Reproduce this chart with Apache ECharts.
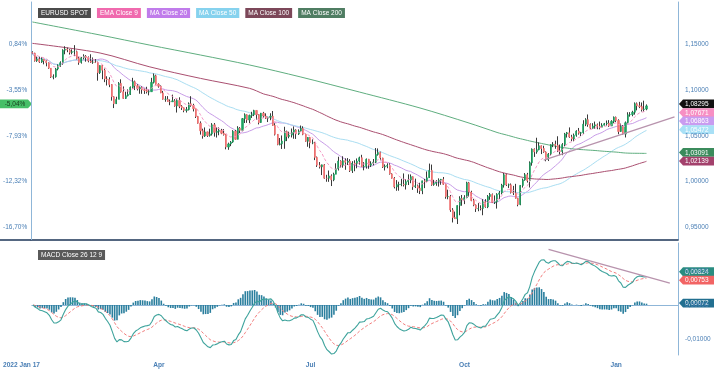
<!DOCTYPE html>
<html><head><meta charset="utf-8">
<script src="https://cdn.jsdelivr.net/npm/echarts@6/dist/echarts.min.js"></script>
<style>html,body{margin:0;padding:0;background:#fff}#c{width:715px;height:372px}</style>
</head><body><div id="c"></div>
<script>
// ---- daily EURUSD candles, 2022-01-17 .. 2023-01-19 (Mon-Fri) ----
const opens = [
1.1413,1.1408,1.1325,1.1344,1.1311, 1.1343,1.1325,1.1302,1.1243,1.1145,
1.1148,1.1234,1.1271,1.1303,1.1440, 1.1451,1.1442,1.1415,1.1424,1.1424,
1.1349,1.1306,1.1357,1.1374,1.1361, 1.1321,1.1308,1.1309,1.1306,1.1194,
1.1271,1.1221,1.1125,1.1118,1.1064, 1.0930,1.0854,1.0901,1.1076,1.0985,
1.0912,1.0942,1.0955,1.1033,1.1095, 1.1051,1.1016,1.1031,1.1007,1.0998,
1.0983,1.0985,1.1088,1.1159,1.1067, 1.1046,1.0972,1.0902,1.0902,1.0877,
1.0875,1.0885,1.0829,1.0890,1.0826, 1.0809,1.0780,1.0789,1.0853,1.0835,
1.0798,1.0714,1.0640,1.0557,1.0500, 1.0545,1.0505,1.0523,1.0622,1.0540,
1.0551,1.0560,1.0530,1.0515,1.0379, 1.0413,1.0434,1.0551,1.0464,1.0586,
1.0562,1.0690,1.0733,1.0675,1.0725, 1.0734,1.0780,1.0734,1.0648,1.0750,
1.0719,1.0695,1.0705,1.0716,1.0616, 1.0518,1.0408,1.0414,1.0445,1.0550,
1.0495,1.0510,1.0537,1.0566,1.0522, 1.0554,1.0583,1.0518,1.0442,1.0484,
1.0425,1.0425,1.0266,1.0181,1.0162, 1.0184,1.0038,1.0037,1.0063,1.0020,
1.0081,1.0141,1.0226,1.0181,1.0230, 1.0212,1.0224,1.0121,1.0202,1.0196,
1.0225,1.0262,1.0164,1.0167,1.0246, 1.0180,1.0197,1.0212,1.0298,1.0320,
1.0259,1.0160,1.0170,1.0178,1.0085, 1.0038,0.9942,0.9967,0.9969,0.9972,
0.9966,1.0000,1.0017,1.0055,0.9944, 0.9955,0.9929,0.9901,1.0009,1.0002,
1.0042,1.0123,0.9968,0.9981,1.0001, 1.0016,1.0025,0.9971,0.9835,0.9838,
0.9690,0.9607,0.9594,0.9738,0.9815, 0.9802,0.9825,0.9987,0.9886,0.9793,
0.9743,0.9703,0.9706,0.9705,0.9780, 0.9723,0.9837,0.9860,0.9771,0.9781,
0.9862,0.9877,0.9962,1.0076,0.9963, 0.9965,0.9882,0.9876,0.9817,0.9749,
0.9959,1.0019,1.0076,1.0011,1.0207, 1.0357,1.0325,1.0350,1.0393,1.0363,
1.0325,1.0243,1.0303,1.0405,1.0409, 1.0398,1.0339,1.0330,1.0406,1.0523,
1.0535,1.0490,1.0467,1.0508,1.0554, 1.0531,1.0536,1.0630,1.0679,1.0626,
1.0585,1.0609,1.0623,1.0606,1.0596, 1.0618,1.0635,1.0641,1.0610,1.0660,
1.0705,1.0670,1.0550,1.0605,1.0521, 1.0645,1.0733,1.0735,1.0760,1.0854,
1.0830,1.0822,1.0790,1.0795
];
const closes = [
1.1408,1.1325,1.1344,1.1311,1.1343, 1.1325,1.1302,1.1243,1.1145,1.1148,
1.1234,1.1271,1.1303,1.1440,1.1451, 1.1442,1.1415,1.1424,1.1424,1.1349,
1.1306,1.1357,1.1374,1.1361,1.1321, 1.1308,1.1309,1.1306,1.1194,1.1271,
1.1221,1.1125,1.1118,1.1064,1.0930, 1.0854,1.0901,1.1076,1.0985,1.0912,
1.0942,1.0955,1.1033,1.1095,1.1051, 1.1016,1.1031,1.1007,1.0998,1.0983,
1.0985,1.1088,1.1159,1.1067,1.1046, 1.0972,1.0902,1.0902,1.0877,1.0875,
1.0885,1.0829,1.0890,1.0826,1.0809, 1.0780,1.0789,1.0853,1.0835,1.0798,
1.0714,1.0640,1.0557,1.0500,1.0545, 1.0505,1.0523,1.0622,1.0540,1.0551,
1.0560,1.0530,1.0515,1.0379,1.0413, 1.0434,1.0551,1.0464,1.0586,1.0562,
1.0690,1.0733,1.0675,1.0725,1.0734, 1.0780,1.0734,1.0648,1.0750,1.0719,
1.0695,1.0705,1.0716,1.0616,1.0518, 1.0408,1.0414,1.0445,1.0550,1.0495,
1.0510,1.0537,1.0566,1.0522,1.0554, 1.0583,1.0518,1.0442,1.0484,1.0425,
1.0425,1.0266,1.0181,1.0162,1.0184, 1.0038,1.0037,1.0063,1.0020,1.0081,
1.0141,1.0226,1.0181,1.0230,1.0212, 1.0224,1.0121,1.0202,1.0196,1.0225,
1.0262,1.0164,1.0167,1.0246,1.0180, 1.0197,1.0212,1.0298,1.0320,1.0259,
1.0160,1.0170,1.0178,1.0085,1.0038, 0.9942,0.9967,0.9969,0.9972,0.9966,
1.0000,1.0017,1.0055,0.9944,0.9955, 0.9929,0.9901,1.0009,1.0002,1.0042,
1.0123,0.9968,0.9981,1.0001,1.0016, 1.0025,0.9971,0.9835,0.9838,0.9690,
0.9607,0.9594,0.9738,0.9815,0.9802, 0.9825,0.9987,0.9886,0.9793,0.9743,
0.9703,0.9706,0.9705,0.9780,0.9723, 0.9837,0.9860,0.9771,0.9781,0.9862,
0.9877,0.9962,1.0076,0.9963,0.9965, 0.9882,0.9876,0.9817,0.9749,0.9959,
1.0019,1.0076,1.0011,1.0207,1.0357, 1.0325,1.0350,1.0393,1.0363,1.0325,
1.0243,1.0303,1.0405,1.0409,1.0398, 1.0339,1.0330,1.0406,1.0523,1.0535,
1.0490,1.0467,1.0508,1.0554,1.0531, 1.0536,1.0630,1.0679,1.0626,1.0585,
1.0609,1.0623,1.0606,1.0596,1.0618, 1.0635,1.0641,1.0610,1.0660,1.0705,
1.0670,1.0550,1.0605,1.0521,1.0645, 1.0733,1.0735,1.0760,1.0854,1.0830,
1.0822,1.0790,1.0795,1.08295
];
const highs = [
1.1428,1.1412,1.1369,1.1369,1.1363, 1.1343,1.1329,1.1306,1.1244,1.1175,
1.1244,1.1285,1.1318,1.1450,1.1483, 1.1468,1.1451,1.1449,1.1495,1.1435,
1.1369,1.1366,1.1395,1.1386,1.1371, 1.1395,1.1360,1.1343,1.1314,1.1274,
1.1278,1.1238,1.1154,1.1143,1.1068, 1.0935,1.0930,1.1090,1.1121,1.1043,
1.0985,1.1011,1.1043,1.1137,1.1107, 1.1067,1.1043,1.1043,1.1019,1.1039,
1.1010,1.1137,1.1185,1.1171,1.1077, 1.1054,1.0994,1.0937,1.0937,1.0900,
1.0953,1.0904,1.0902,1.0924,1.0838, 1.0811,1.0818,1.0868,1.0936,1.0853,
1.0798,1.0720,1.0660,1.0580,1.0594, 1.0548,1.0580,1.0641,1.0642,1.0593,
1.0594,1.0578,1.0576,1.0519,1.0427, 1.0445,1.0564,1.0567,1.0607,1.0598,
1.0697,1.0748,1.0737,1.0734,1.0765, 1.0787,1.0780,1.0737,1.0753,1.0764,
1.0748,1.0710,1.0749,1.0774,1.0640, 1.0522,1.0478,1.0506,1.0601,1.0559,
1.0547,1.0582,1.0605,1.0574,1.0573, 1.0615,1.0606,1.0526,1.0487,1.0488,
1.0463,1.0434,1.0275,1.0215,1.0187, 1.0192,1.0075,1.0122,1.0080,1.0098,
1.0201,1.0273,1.0234,1.0278,1.0255, 1.0258,1.0246,1.0224,1.0234,1.0254,
1.0274,1.0294,1.0214,1.0254,1.0249, 1.0223,1.0248,1.0368,1.0364,1.0328,
1.0262,1.0189,1.0202,1.0201,1.0091, 1.0050,1.0017,0.9999,1.0031,1.0090,
1.0029,1.0080,1.0079,1.0057,1.0033, 0.9968,0.9988,1.0011,1.0030,1.0112,
1.0198,1.0187,1.0020,1.0017,1.0036, 1.0030,1.0051,0.9978,0.9912,0.9854,
0.9710,0.9672,0.9741,0.9840,0.9854, 0.9852,0.9999,0.9997,0.9900,0.9812,
0.9750,0.9765,0.9741,0.9808,0.9808, 0.9853,0.9876,0.9870,0.9849,0.9873,
0.9897,0.9976,1.0094,1.0088,0.9979, 0.9980,0.9954,0.9976,0.9822,0.9962,
1.0034,1.0094,1.0096,1.0222,1.0364, 1.0364,1.0481,1.0430,1.0396,1.0393,
1.0331,1.0313,1.0409,1.0433,1.0449, 1.0497,1.0406,1.0422,1.0534,1.0544,
1.0594,1.0513,1.0527,1.0563,1.0588, 1.0545,1.0673,1.0695,1.0736,1.0638,
1.0640,1.0658,1.0637,1.0658,1.0640, 1.0643,1.0670,1.0674,1.0673,1.0714,
1.0713,1.0683,1.0636,1.0620,1.0659, 1.0760,1.0761,1.0776,1.0868,1.0867,
1.0874,1.0867,1.0887,1.0846
];
const lows = [
1.1396,1.1315,1.1312,1.1301,1.1301, 1.1285,1.1263,1.1235,1.1136,1.1121,
1.1139,1.1219,1.1257,1.1281,1.1395, 1.1418,1.1392,1.1395,1.1375,1.1339,
1.1280,1.1293,1.1339,1.1314,1.1307, 1.1300,1.1290,1.1299,1.1106,1.1180,
1.1122,1.1090,1.1053,1.1035,1.0887, 1.0806,1.0850,1.0904,1.0975,1.0908,
1.0906,1.0933,1.0949,1.1019,1.1003, 1.0999,1.0963,1.0962,1.0961,1.0966,
1.0945,1.0985,1.1075,1.1064,1.1029, 1.0969,1.0899,1.0875,1.0876,1.0837,
1.0872,1.0821,1.0757,1.0805,1.0785, 1.0760,1.0757,1.0780,1.0820,1.0769,
1.0697,1.0636,1.0515,1.0471,1.0490, 1.0490,1.0493,1.0505,1.0493,1.0483,
1.0508,1.0520,1.0505,1.0354,1.0349, 1.0389,1.0425,1.0459,1.0462,1.0532,
1.0552,1.0642,1.0644,1.0641,1.0698, 1.0718,1.0680,1.0627,1.0644,1.0700,
1.0686,1.0653,1.0673,1.0612,1.0506, 1.0399,1.0397,1.0358,1.0360,1.0444,
1.0475,1.0484,1.0470,1.0468,1.0511, 1.0545,1.0509,1.0437,1.0382,1.0366,
1.0410,1.0236,1.0161,1.0144,1.0072, 1.0032,0.9999,0.9998,0.9952,1.0005,
1.0081,1.0122,1.0154,1.0153,1.0130, 1.0182,1.0106,1.0095,1.0114,1.0146,
1.0187,1.0160,1.0124,1.0143,1.0141, 1.0160,1.0179,1.0203,1.0285,1.0234,
1.0150,1.0122,1.0147,1.0077,1.0034, 0.9926,0.9900,0.9901,0.9950,0.9947,
0.9914,0.9963,0.9983,0.9910,0.9930, 0.9877,0.9864,0.9863,0.9929,1.0001,
1.0040,0.9955,0.9955,0.9955,0.9946, 0.9966,0.9965,0.9813,0.9807,0.9669,
0.9553,0.9593,0.9536,0.9632,0.9736, 0.9754,0.9818,0.9837,0.9786,0.9731,
0.9668,0.9676,0.9685,0.9632,0.9714, 0.9710,0.9801,0.9766,0.9755,0.9705,
0.9808,0.9861,0.9935,0.9952,0.9931, 0.9870,0.9853,0.9815,0.9730,0.9742,
0.9935,1.0010,0.9990,0.9936,1.0175, 1.0271,1.0306,1.0343,1.0302,1.0316,
1.0223,1.0226,1.0287,1.0378,1.0360, 1.0324,1.0290,1.0290,1.0387,1.0483,
1.0480,1.0443,1.0442,1.0492,1.0515, 1.0499,1.0522,1.0608,1.0601,1.0575,
1.0578,1.0577,1.0574,1.0573,1.0595, 1.0615,1.0611,1.0600,1.0610,1.0640,
1.0652,1.0519,1.0545,1.0514,1.0484, 1.0637,1.0712,1.0716,1.0734,1.0781,
1.0805,1.0768,1.0766,1.0782
];
// long MAs before their full window exists: [day index, value]
const ma100Early = [[0,1.1515],[29,1.1409],[50,1.1259],[72,1.1131],[93,1.1022]];
const ma200Early = [[0,1.1749],[29,1.1606],[50,1.1497],[72,1.1387],[93,1.1278],[115,1.1146],[140,1.0982],[166,1.0807],[187,1.0642]];
// drawn trend lines: [day index, value]
const priceTrend = [[219,1.0235],[275,1.0710]];
const macdTrend = [[221,0.0162],[273,0.0064]];
// last-value tags: price, EMA9, MA20, MA50, MA200, MA100 / MACD, signal, histogram
const priceTags = [1.08295,1.07671,1.06863,1.05472,1.03091,1.02139];
const macdTags = [0.00824,0.00753,0.00072];
const pctNowText = '-5,04%';
// axes
const priceTicks = [0.95,1.00,1.05,1.10,1.15];
const pctTickText = ['-16,70%','-12,32%','-7,93%','-3,55%','0,84%'];
const macdTicks = [-0.01,0,0.01];
const xTickDates = ['2022-01-17','2022-04-01','2022-07-01','2022-10-03','2023-01-02'];
const xTickText = ['2022 Jan 17','Apr','Jul','Oct','Jan'];
const legendNames = ['EURUSD SPOT','EMA Close 9','MA Close 20','MA Close 50','MA Close 100','MA Close 200'];

// ---- trading-day categories (with empty future slots on the right) ----
const cats = [];
{ let t = Date.UTC(2022,0,17); while (cats.length < 277) { const d = new Date(t); const w = d.getUTCDay(); if (w !== 0 && w !== 6) cats.push(d.toISOString().slice(0,10)); t += 86400000; } }
const tickIdx = xTickDates.map(d => cats.indexOf(d));

// ---- indicators ----
function ema(arr, n) { const a = 2/(n+1); let e = arr[0]; return arr.map((v,i) => (e = i === 0 ? v : a*v + (1-a)*e)); }
function sma(n, i) { let s = 0, c = 0; for (let k = Math.max(0, i-n+1); k <= i; k++) { s += closes[k]; c++; } return s/c; }
const ema9 = ema(closes, 9);
const ma20 = closes.map((_, i) => sma(20, i));
const ma50 = closes.map((_, i) => sma(50, i));
const ma100 = ma100Early.concat(closes.map((_, i) => [i, sma(100, i)]).filter(p => p[0] >= 99));
const ma200 = ma200Early.concat(closes.map((_, i) => [i, sma(200, i)]).filter(p => p[0] >= 199));
const e12 = ema(closes, 12), e26 = ema(closes, 26);
const macd = e12.map((v, i) => v - e26[i]);
const signal = ema(macd, 9);
const hist = macd.map((v, i) => v - signal[i]);

const F = 'Liberation Sans, Arial, sans-serif';
const fmt5 = v => v.toFixed(5).replace('.', ',');
const AX = '#8fb6d8', LBL = '#4a7fb5';
const colors = { ema9: '#f59ac6', ma20: '#c89ce8', ma50: '#a9def2', ma100: '#aa4f70', ma200: '#5fae7f' };
const legendBg = ['#4b4b4b','#f06aae','#c07ceb','#86d2ee','#7c4759','#4f7d62'];
const UP = '#1fa463', DOWN = '#f07272', WICK = '#3a3a3a';

const chart = echarts.init(document.getElementById('c'), null, { renderer: 'canvas' });
chart.setOption({
  animation: false,
  backgroundColor: '#fff',
  textStyle: { fontFamily: F },
  grid: [
    { left: 31, right: 37, top: 2, bottom: 132 },
    { left: 31, right: 37, top: 243, bottom: 17 }
  ],
  legend: [
    { left: 28, top: 3, itemWidth: 0, itemHeight: 0, itemGap: 1, icon: 'none', selectedMode: false,
      data: legendNames.map((n, i) => ({ name: n, textStyle: { color: '#fff', backgroundColor: legendBg[i], padding: [2, 3, 1, 3], fontSize: 6.5, fontFamily: F } })) },
    { left: 28, top: 245, itemWidth: 0, itemHeight: 0, icon: 'none', selectedMode: false,
      data: [{ name: 'MACD Close 26 12 9', textStyle: { color: '#fff', backgroundColor: '#5a5a5a', padding: [2, 3, 1, 3], fontSize: 6.5, fontFamily: F } }] }
  ],
  xAxis: [
    { type: 'category', gridIndex: 0, data: cats, boundaryGap: true,
      axisLine: { lineStyle: { color: '#1d3557', width: 1.5 } }, axisTick: { show: false }, axisLabel: { show: false }, splitLine: { show: false } },
    { type: 'category', gridIndex: 1, data: cats, boundaryGap: true,
      axisLine: { lineStyle: { color: AX } },
      axisTick: { alignWithLabel: true, interval: i => tickIdx.includes(i), length: 3, lineStyle: { color: LBL } },
      axisLabel: { interval: i => tickIdx.includes(i), margin: 7, color: LBL, fontWeight: 'bold', fontSize: 6.6, fontFamily: F,
        formatter: (v, i) => { const k = tickIdx.indexOf(i); return k === 0 ? '{a|' + xTickText[0] + '}' : (k > 0 ? xTickText[k] : ''); },
        rich: { a: { width: 60, align: 'left', color: LBL, fontWeight: 'bold', fontSize: 6.6, fontFamily: F } } },
      splitLine: { show: false } }
  ],
  yAxis: [
    { type: 'value', gridIndex: 0, position: 'right', min: 0.93609, max: 1.19677, splitLine: { show: false },
      axisLine: { show: true, onZero: false, lineStyle: { color: AX } }, axisTick: { show: false },
      axisLabel: { customValues: priceTicks, formatter: v => fmt5(v), color: LBL, fontSize: 6.5, fontFamily: F, margin: 7 } },
    { type: 'value', gridIndex: 0, position: 'left', min: 0.93609, max: 1.19677, splitLine: { show: false },
      axisLine: { show: true, onZero: false, lineStyle: { color: AX } }, axisTick: { show: false },
      axisLabel: { customValues: priceTicks, formatter: v => { const k = priceTicks.findIndex(t => Math.abs(t - v) < 1e-9); return k >= 0 ? pctTickText[k] : ''; },
        color: LBL, fontSize: 6.5, fontFamily: F, margin: 4 } },
    { type: 'value', gridIndex: 1, position: 'right', min: -0.01458, max: 0.01808, splitLine: { show: false },
      axisLine: { show: true, onZero: false, lineStyle: { color: AX } }, axisTick: { show: false },
      axisLabel: { customValues: macdTicks, formatter: v => fmt5(v), color: LBL, fontSize: 6.5, fontFamily: F, margin: 7 } }
  ],
  series: [
    { name: 'EURUSD SPOT', type: 'candlestick', xAxisIndex: 0, yAxisIndex: 0, barWidth: 0.4, z: 3,
      data: closes.map((c, i) => [opens[i], c, lows[i], highs[i]]),
      itemStyle: { color: WICK, color0: WICK, borderColor: WICK, borderColor0: WICK, borderWidth: 1 } },
    { name: 'bodies', type: 'candlestick', xAxisIndex: 0, yAxisIndex: 0, barWidth: 1.6, z: 4,
      data: closes.map((c, i) => [opens[i], c, opens[i], c]),
      itemStyle: { color: UP, color0: DOWN, borderColor: UP, borderColor0: DOWN, borderWidth: 0.6 } },
    { name: 'EMA Close 9', type: 'line', xAxisIndex: 0, yAxisIndex: 0, data: ema9, showSymbol: false, z: 5,
      lineStyle: { color: colors.ema9, width: 1, type: [3, 2] } },
    { name: 'MA Close 20', type: 'line', xAxisIndex: 0, yAxisIndex: 0, data: ma20, showSymbol: false, z: 2,
      lineStyle: { color: colors.ma20, width: 1 } },
    { name: 'MA Close 50', type: 'line', xAxisIndex: 0, yAxisIndex: 0, data: ma50, showSymbol: false, z: 2,
      lineStyle: { color: colors.ma50, width: 1 } },
    { name: 'MA Close 100', type: 'line', xAxisIndex: 0, yAxisIndex: 0, data: ma100, showSymbol: false, smooth: 0.3, z: 2,
      lineStyle: { color: colors.ma100, width: 1 } },
    { name: 'MA Close 200', type: 'line', xAxisIndex: 0, yAxisIndex: 0, data: ma200, showSymbol: false, smooth: 0.3, z: 2,
      lineStyle: { color: colors.ma200, width: 1 } },
    { name: 'trend', type: 'line', xAxisIndex: 0, yAxisIndex: 0, data: priceTrend, showSymbol: false, z: 6,
      lineStyle: { color: '#b893ad', width: 1.3 } },
    { name: 'MACD hist', type: 'bar', xAxisIndex: 1, yAxisIndex: 2, data: hist, barWidth: 1.6,
      itemStyle: { color: '#2b7f9e' } },
    { name: 'MACD Close 26 12 9', type: 'line', xAxisIndex: 1, yAxisIndex: 2, data: macd, showSymbol: false, z: 4,
      lineStyle: { color: '#3ea39c', width: 1.1 } },
    { name: 'signal', type: 'line', xAxisIndex: 1, yAxisIndex: 2, data: signal, showSymbol: false, z: 3,
      lineStyle: { color: '#f27c7c', width: 1, type: [3, 2] } },
    { name: 'macd trend', type: 'line', xAxisIndex: 1, yAxisIndex: 2, data: macdTrend, showSymbol: false, z: 5,
      lineStyle: { color: '#b893ad', width: 1.3 } }
  ]
});

// ---- last-value tags, positioned through the chart's own y scales ----
const RX = 715 - 37;              // right edge of the plots
const H = 4.4;                    // half tag height
const TAGFONT = '6.5px Liberation Sans, Arial, sans-serif';
function rightTag(yPx, text, bg, fg) {
  return { type: 'group', x: RX + 1, y: yPx, z: 100, silent: true, children: [
    { type: 'polygon', shape: { points: [[0,0],[4,-H],[35,-H],[35,H],[4,H]] }, style: { fill: bg } },
    { type: 'text', x: 6, y: 0.3, style: { text, fill: fg, font: TAGFONT, align: 'left', verticalAlign: 'middle' } }
  ] };
}
function leftTag(yPx, text, bg, fg) {
  return { type: 'group', x: 0, y: yPx, z: 100, silent: true, children: [
    { type: 'polygon', shape: { points: [[0,-H],[28,-H],[32,0],[28,H],[0,H]] }, style: { fill: bg } },
    { type: 'text', x: 15, y: 0.3, style: { text, fill: fg, font: TAGFONT, align: 'center', verticalAlign: 'middle' } }
  ] };
}
const py = v => chart.convertToPixel({ yAxisIndex: 0 }, v);
const my = v => chart.convertToPixel({ yAxisIndex: 2 }, v);
const priceTagStyle = [['#111111','#ffffff',-2],['#f78fc3','#ffffff',1],['#c99cf0','#ffffff',2],['#a8e0f6','#ffffff',-2],['#3b8b5c','#ffffff',-1],['#a3416c','#ffffff',-1]];
const macdTagStyle = [['#2a8c80','#ffffff',-5],['#f26464','#ffffff',1],['#226f90','#ffffff',0.5]];
const yTop = py(0.93609 + (1.19677 - 0.93609)), yBot = py(0.93609);
const graphics = [
  // panel frame pieces: left edge of the price panel and the separator running to the page edge
  { type: 'line', shape: { x1: 31.5, y1: yTop, x2: 31.5, y2: yBot }, style: { stroke: AX, lineWidth: 1 }, z: 1, silent: true },
  { type: 'line', shape: { x1: 0, y1: yBot, x2: 31, y2: yBot }, style: { stroke: '#1d3557', lineWidth: 1.5 }, z: 1, silent: true }
];
priceTags.forEach((v, i) => { const s = priceTagStyle[i]; graphics.push(rightTag(py(v) + s[2], fmt5(v), s[0], s[1])); });
graphics.push(leftTag(py(priceTags[0]) - 2, pctNowText, '#47bf68', '#17401f'));
macdTags.forEach((v, i) => { const s = macdTagStyle[i]; graphics.push(rightTag(my(v) + s[2], fmt5(v), s[0], s[1])); });
chart.setOption({ graphic: graphics });
</script></body></html>
